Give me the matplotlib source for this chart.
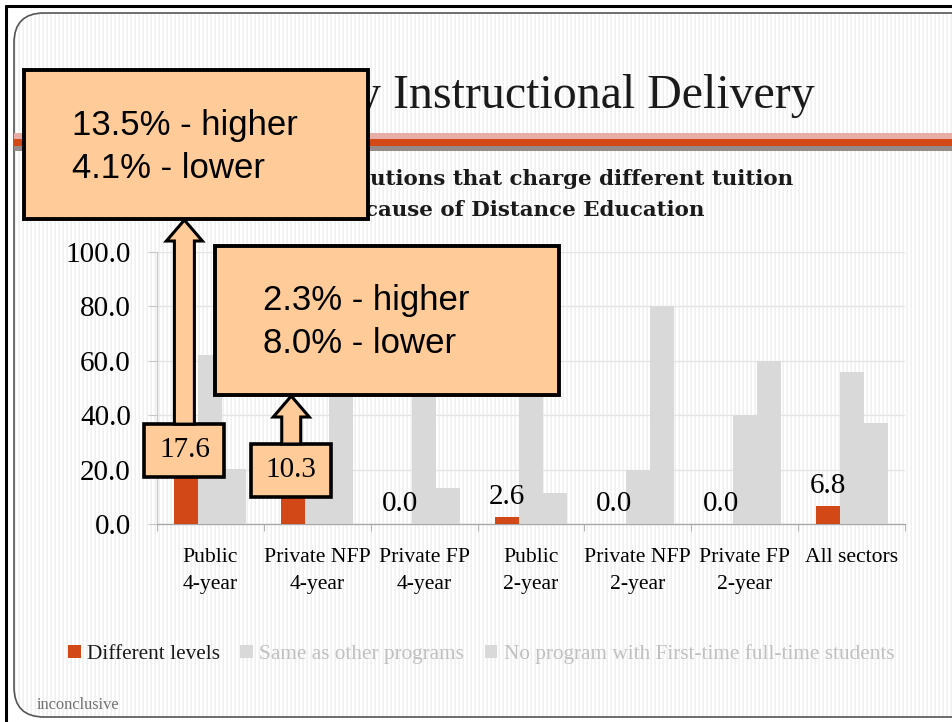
import numpy as np
import matplotlib
matplotlib.use("Agg")
import matplotlib.pyplot as plt
from matplotlib.patches import FancyBboxPatch, Rectangle, Polygon

# ---------- Data ----------
categories = ["Public\n4-year", "Private NFP\n4-year", "Private FP\n4-year",
              "Public\n2-year", "Private NFP\n2-year", "Private FP\n2-year",
              "All sectors"]
different = [17.6, 10.3, 0.0, 2.6, 0.0, 0.0, 6.8]
same_as_other = [62.2, 21.0, 86.6, 86.1, 20.0, 40.0, 55.8]
no_program = [20.2, 68.7, 13.4, 11.3, 80.0, 60.0, 37.3]
series_names = ["Different levels", "Same as other programs",
                "No program with First-time full-time students"]
yticks = [0, 20, 40, 60, 80, 100]

callout_4yr = "13.5% - higher\n4.1% - lower"
callout_nfp = "2.3% - higher\n8.0% - lower"

# ---------- Settings ----------
W, H = 953, 722
AX_L, AX_R, AX_T, AX_B = 157, 905, 252, 524
RED = "#d34817"
GRAY = "#d9d9d9"
PEACH = "#ffcc99"
SERIF = ["Liberation Serif", "DejaVu Serif"]
SANS = ["Liberation Sans", "DejaVu Sans"]


def px(v):
    """pixels -> points at dpi 100"""
    return v * 72 / 100


fig = plt.figure(figsize=(W / 100, H / 100), dpi=100)
fig.patch.set_facecolor("white")

# ---------- Slide background ----------
bg = fig.add_axes([0, 0, 1, 1], zorder=0)
bg.set_xlim(0, W)
bg.set_ylim(H, 0)
bg.axis("off")

frame = FancyBboxPatch((14, 13), W + 20, 704, boxstyle="round,pad=0,rounding_size=30",
                       facecolor="none", edgecolor="#555555", lw=1.2, zorder=2)
bg.add_patch(frame)
stripe = np.tile([1.0, 1.0, 0.962, 0.94], W // 4 + 1)[:W]
img = bg.imshow(np.tile(stripe, (10, 1)), cmap="gray", vmin=0, vmax=1,
                extent=(0, W, H, 0), interpolation="nearest", aspect="auto", zorder=1)
img.set_clip_path(frame)
bg.set_xlim(0, W)
bg.set_ylim(H, 0)

bg.plot([5, W], [6, 6], color="black", lw=2.2, zorder=3, solid_capstyle="butt")
bg.plot([6, 6], [5, H], color="black", lw=2.2, zorder=3, solid_capstyle="butt")

bg.add_patch(Rectangle((14, 133), W, 6, color="#e8aea6", lw=0, zorder=3))
bg.add_patch(Rectangle((14, 139), W, 7, color=RED, lw=0, zorder=3))
bg.add_patch(Rectangle((14, 146), W, 5, color="#968a88", lw=0, zorder=3))

bg.text(815, 108, "y Instructional Delivery", ha="right", va="baseline",
        fontsize=34.5, family=SERIF, color="#1a1a1a", zorder=3)
bg.text(793, 185, "utions that charge different tuition", ha="right", va="baseline",
        fontsize=15.4, fontweight="bold", family=["DejaVu Serif"], color="#1a1a1a", zorder=3)
bg.text(705, 216, "cause of Distance Education", ha="right", va="baseline",
        fontsize=15.4, fontweight="bold", family=["DejaVu Serif"], color="#1a1a1a", zorder=3)
bg.text(37, 705, "inconclusive", ha="left", va="center", fontsize=11.8,
        family=SERIF, color="#707070", zorder=3)

# ---------- Chart ----------
ax = fig.add_axes([AX_L / W, (H - AX_B) / H, (AX_R - AX_L) / W, (AX_B - AX_T) / H], zorder=1)
ax.patch.set_visible(False)

x = np.arange(len(categories))
bw = 0.225
ax.bar(x - bw, different, bw, color=RED, zorder=3, label=series_names[0])
ax.bar(x, same_as_other, bw, color=GRAY, zorder=3, label=series_names[1])
ax.bar(x + bw, no_program, bw, color=GRAY, zorder=3, label=series_names[2])

ax.set_xlim(-0.5, len(categories) - 0.5)
ax.set_ylim(0, 100)
ax.set_yticks(yticks)
ax.set_yticklabels([f"{v:.1f}" for v in yticks], family=SERIF, fontsize=21)
ax.yaxis.grid(True, color="#e4e4e4", lw=px(1.3), zorder=0)
ax.tick_params(axis="y", length=px(9), color="#c8c8c8", pad=px(17))

ax.set_xticks(x)
ax.set_xticklabels(categories, family=SERIF, fontsize=15.6, linespacing=1.58)
ax.set_xticks(np.arange(len(categories) + 1) - 0.5, minor=True)
ax.tick_params(axis="x", which="major", length=0, pad=px(24))
ax.tick_params(axis="x", which="minor", length=px(7), color="#a6a6a6")

for side in ["top", "right"]:
    ax.spines[side].set_visible(False)
ax.spines["left"].set_color("#c8c8c8")
ax.spines["bottom"].set_color("#a6a6a6")
ax.spines["left"].set_linewidth(px(1.3))
ax.spines["bottom"].set_linewidth(px(1.3))

# plain data labels for the red bars (the two tall ones get boxes below)
for i, v in enumerate(different):
    if i in (0, 1):
        continue
    ax.annotate(f"{v:.1f}", (x[i] - bw, v), xytext=(0, px(7)), textcoords="offset points",
                ha="center", va="bottom", family=SERIF, fontsize=21, zorder=4)

leg = ax.legend(loc="center left", bbox_to_anchor=(68 / W, (H - 654) / H),
                bbox_transform=fig.transFigure, ncol=3, frameon=False,
                prop={"family": SERIF, "size": 15.3}, handlelength=0.6, handleheight=0.6,
                handletextpad=0.3, columnspacing=0.95, borderpad=0, borderaxespad=0)
for t, c in zip(leg.get_texts(), ["#1a1a1a", "#c0c0c0", "#c0c0c0"]):
    t.set_color(c)

# ---------- Callouts ----------
ov = fig.add_axes([0, 0, 1, 1], zorder=3)
ov.set_xlim(0, W)
ov.set_ylim(H, 0)
ov.axis("off")


def bar_px(xd, v):
    """data point on the chart -> slide pixel (x, y from top)"""
    dx, dy = ax.transData.transform((xd, v))
    return dx, H - dy


def box(x0, y0, x1, y1, lw=2.6):
    ov.add_patch(Rectangle((x0, y0), x1 - x0, y1 - y0, facecolor=PEACH,
                           edgecolor="black", lw=lw, zorder=4, joinstyle="miter"))


def up_arrow(cx, y_base, y_tip, shaft=10, head=18, head_len=21):
    pts = [(cx - shaft, y_base), (cx - shaft, y_tip + head_len), (cx - head, y_tip + head_len),
           (cx, y_tip), (cx + head, y_tip + head_len), (cx + shaft, y_tip + head_len),
           (cx + shaft, y_base)]
    ov.add_patch(Polygon(pts, closed=True, facecolor=PEACH, edgecolor="black",
                         lw=2.2, zorder=5, joinstyle="miter"))


# big boxes
box(24, 70, 368, 219, lw=2.8)
ov.text(72, 147, callout_4yr, ha="left", va="center", family=SANS, fontsize=25,
        linespacing=1.42, zorder=6)
box(215, 246, 559, 395, lw=2.8)
ov.text(263, 322, callout_nfp, ha="left", va="center", family=SANS, fontsize=25,
        linespacing=1.42, zorder=6)

# small value boxes sitting on top of the red bars
for i, target in ((0, 219), (1, 395)):
    cx, top = bar_px(x[i] - bw, different[i])
    cx -= 2
    box(cx - 40, top - 52, cx + 40, top + 1)
    ov.text(cx, top - 26, f"{different[i]:.1f}", ha="center", va="center",
            family=SERIF, fontsize=21, zorder=6)
    up_arrow(cx, top - 52, target + 1, shaft=10 if i == 0 else 9.5)

fig.savefig("out.png", dpi=100)
